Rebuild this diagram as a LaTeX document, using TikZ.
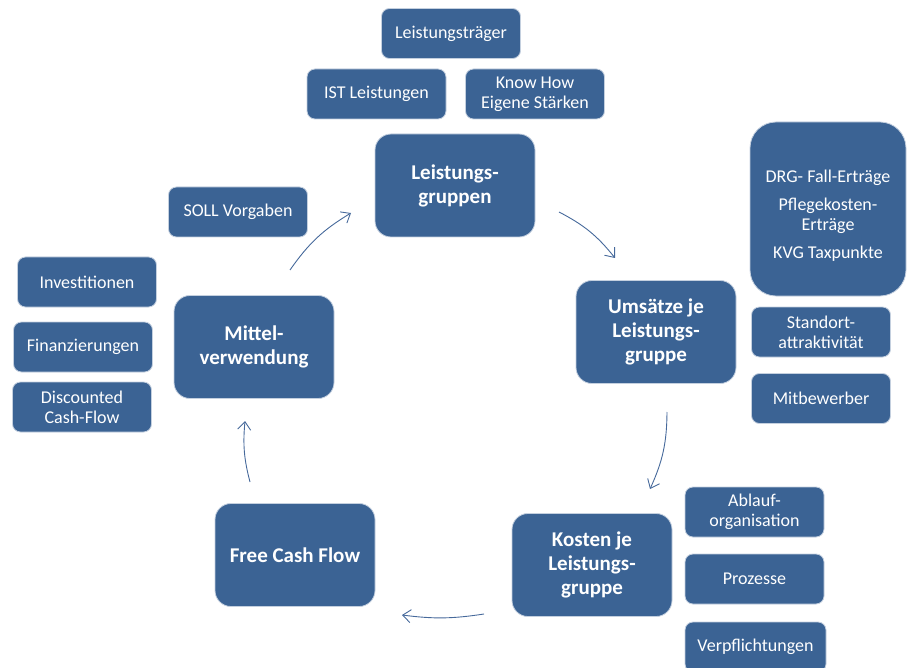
\documentclass[tikz,border=0pt]{standalone}
\usepackage{fontspec}
\setmainfont{Carlito}
\usetikzlibrary{arrows.meta}
\definecolor{boxblue}{RGB}{59,99,148}
\definecolor{arrowblue}{RGB}{70,105,155}
\tikzset{
  smallbox/.style={draw=white!70!boxblue, line width=0.8pt, fill=boxblue, text=white,
    rounded corners=8pt, align=center, inner sep=0pt,
    minimum width=139pt, minimum height=50pt,
    font=\fontsize{18}{20}\selectfont},
  bigbox/.style={smallbox, rounded corners=16pt,
    minimum width=160pt, minimum height=103pt,
    font=\bfseries\fontsize{21}{24}\selectfont},
  flowarrow/.style={draw=arrowblue, line width=0.9pt,
    -{Straight Barb[length=8pt,width=13pt]}},
}
\begin{document}
\begin{tikzpicture}[x=1pt, y=-1pt]
\useasboundingbox (0,0) rectangle (915,668);
\clip (0,0) rectangle (915,668);

% cycle
\node[bigbox] (gruppen) at (455,185.5) {Leistungs-\\gruppen};
\node[bigbox] (umsatz) at (656,332) {Ums\"atze je\\Leistungs-\\gruppe};
\node[bigbox] (kosten) at (592,565) {Kosten je\\Leistungs-\\gruppe};
\node[bigbox] (fcf) at (295,555) {Free Cash Flow};
\node[bigbox] (mittel) at (254,347) {Mittel-\\verwendung};

% side boxes
\node[smallbox] (traeger) at (451,33.5) {Leistungstr\"ager};
\node[smallbox] (ist) at (376.5,94) {IST Leistungen};
\node[smallbox] (knowhow) at (535,94) {Know How\\Eigene St\"arken};
\node[smallbox] (soll) at (238,212) {SOLL Vorgaben};
\node[smallbox] (invest) at (87,282) {Investitionen};
\node[smallbox] (finanz) at (83,347) {Finanzierungen};
\node[smallbox] (dcf) at (82,407) {Discounted\\Cash-Flow};
\node[smallbox, rounded corners=26pt, minimum width=156pt, minimum height=174pt] (ertrag) at (828,209)
  {\mbox{}\\[5pt]DRG- Fall-Ertr\"age\\[8pt]Pflegekosten-\\Ertr\"age\\[8pt]KVG Taxpunkte};
\node[smallbox] (standort) at (821,332) {Standort-\\attraktivit\"at};
\node[smallbox] (mitbew) at (821,398.5) {Mitbewerber};
\node[smallbox] (ablauf) at (754.5,512) {Ablauf-\\organisation};
\node[smallbox] (prozesse) at (754.5,579) {Prozesse};
\node[smallbox, minimum width=141pt] (verpfl) at (755.5,647) {Verpflichtungen};

% arrows
\coordinate (a1s) at (290,270); \coordinate (a1e) at (351,213);
\coordinate (a2s) at (559,212); \coordinate (a2e) at (615,258);
\coordinate (a3s) at (667,412); \coordinate (a3e) at (650,489);
\coordinate (a4s) at (484,614); \coordinate (a4e) at (402,615);
\coordinate (a5s) at (250,482); \coordinate (a5e) at (245,421);
\draw[flowarrow] (a1s) to[bend left=12] (a1e);
\draw[flowarrow] (a2s) to[bend left=12] (a2e);
\draw[flowarrow] (a3s) to[bend left=12] (a3e);
\draw[flowarrow] (a4s) to[bend left=8] (a4e);
\draw[flowarrow] (a5s) to[bend left=10] (a5e);
\end{tikzpicture}
\end{document}
